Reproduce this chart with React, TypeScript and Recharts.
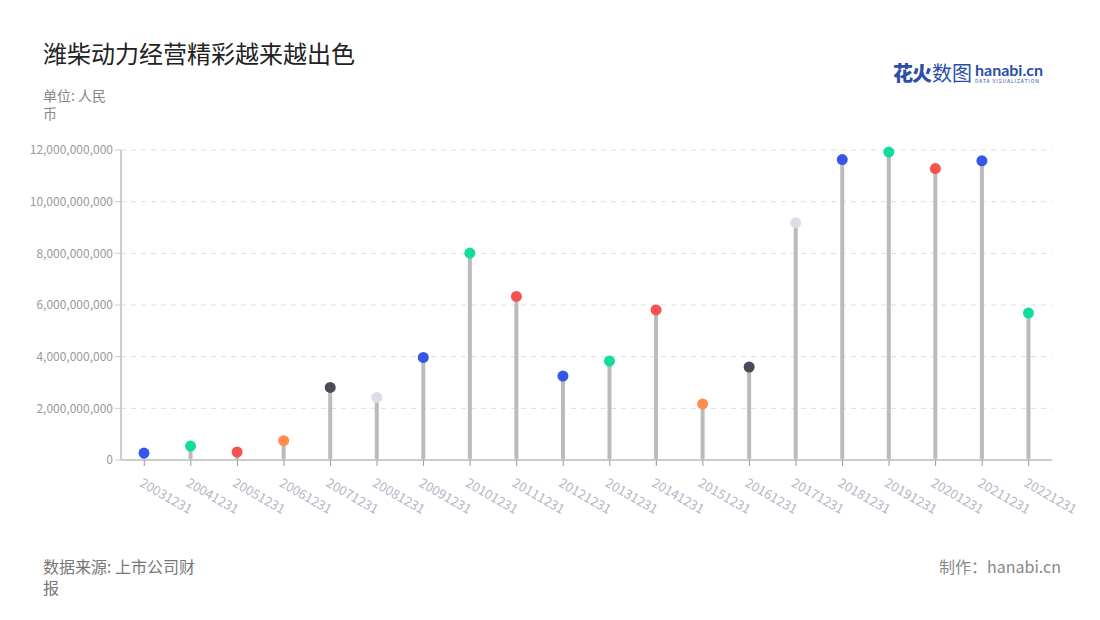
import React from 'react';
import { ComposedChart, Bar, XAxis, YAxis, CartesianGrid } from 'recharts';

const categories = ['20031231','20041231','20051231','20061231','20071231','20081231','20091231','20101231','20111231','20121231','20131231','20141231','20151231','20161231','20171231','20181231','20191231','20201231','20211231','20221231'];
const values = [0.27e9, 0.54e9, 0.31e9, 0.75e9, 2.81e9, 2.42e9, 3.97e9, 8.01e9, 6.33e9, 3.25e9, 3.83e9, 5.81e9, 2.17e9, 3.60e9, 9.18e9, 11.63e9, 11.92e9, 11.28e9, 11.58e9, 5.69e9];
const dotColors = ['#3656ea','#12db9e','#f5534f','#ff8c4c','#4b4b57','#dcdde6','#3656ea','#12db9e','#f5534f','#3656ea','#12db9e','#f5534f','#ff8c4c','#4b4b57','#dcdde6','#3656ea','#12db9e','#f5534f','#3656ea','#12db9e'];
const yTicks = [0, 2e9, 4e9, 6e9, 8e9, 10e9, 12e9];

const data = categories.map((c, i) => ({ name: c, value: values[i] }));

const FONT = '"Noto Sans CJK SC", "Noto Sans", sans-serif';

const Lollipop = (props: any) => {
  const { x, y, width, height, index } = props;
  const cx = x + width / 2;
  return (
    <g>
      <rect x={x} y={y} width={width} height={Math.max(height, 0)} fill="#bbbbbb" />
      <circle cx={cx} cy={y} r={5.5} fill={dotColors[index]} />
    </g>
  );
};

const XTick = (props: any) => {
  const { x, y, payload } = props;
  return (
    <g transform={`translate(${x},${y})`}>
      <text x={4} y={6} transform="rotate(30)" textAnchor="start" dominantBaseline="hanging" fill="#b3b6c8" fontSize={13} fontFamily={FONT}>
        {payload.value}
      </text>
    </g>
  );
};

const fmt = (v: number) => v.toLocaleString('en-US');

export default function App() {
  return (
    <div style={{ position: 'absolute', left: 0, top: 0, width: 1100, height: 620, background: '#fff', fontFamily: FONT, overflow: 'hidden' }}>
      <div style={{ position: 'absolute', left: 43, top: 36, fontSize: 24, color: '#222', lineHeight: '34px' }}>潍柴动力经营精彩越来越出色</div>
      <div style={{ position: 'absolute', left: 43, top: 86, width: 70, fontSize: 14, color: '#888', lineHeight: '18px' }}>单位: 人民币</div>
      <div style={{ position: 'absolute', left: 893, top: 58, display: 'flex', alignItems: 'center' }}>
        <span style={{ fontSize: 20, fontWeight: 900, color: '#2b4fa8', letterSpacing: -1 }}>花火</span>
        <span style={{ fontSize: 20, color: '#2b4fa8', marginLeft: 1 }}>数图</span>
        <span style={{ display: 'flex', flexDirection: 'column', marginLeft: 3 }}>
          <span style={{ fontSize: 16, fontWeight: 700, color: '#2b4fa8', lineHeight: '15px', fontFamily: 'Lato, sans-serif' }}>hanabi.cn</span>
          <span style={{ fontSize: 5, color: '#2b4fa8', lineHeight: '7px', letterSpacing: 0.9 }}>DATA VISUALIZATION</span>
        </span>
      </div>
      <div style={{ position: 'absolute', left: 43, top: 556, width: 160, fontSize: 16, color: '#777', lineHeight: '21px' }}>数据来源: 上市公司财报</div>
      <div style={{ position: 'absolute', right: 39, top: 556, fontSize: 16, color: '#888', lineHeight: '21px' }}>制作：hanabi.cn</div>
      <div style={{ position: 'absolute', left: 0, top: 0 }}>
        <ComposedChart width={1100} height={620} data={data} margin={{ top: 150, right: 48, bottom: 100, left: 21 }}>
          <CartesianGrid vertical={false} stroke="#dddddd" strokeDasharray="5 5" />
          <XAxis dataKey="name" interval={0} tick={<XTick />} tickLine={{ stroke: '#999' }} axisLine={{ stroke: '#cccccc', strokeWidth: 2 }} height={60} />
          <YAxis width={100} domain={[0, 12e9]} ticks={yTicks} tickFormatter={fmt} tick={{ fill: '#999', fontSize: 12, fontFamily: FONT }} axisLine={{ stroke: '#cccccc', strokeWidth: 2 }} tickLine={{ stroke: '#cccccc' }} />
          <Bar dataKey="value" barSize={4} shape={<Lollipop />} isAnimationActive={false} />
        </ComposedChart>
      </div>
    </div>
  );
}
